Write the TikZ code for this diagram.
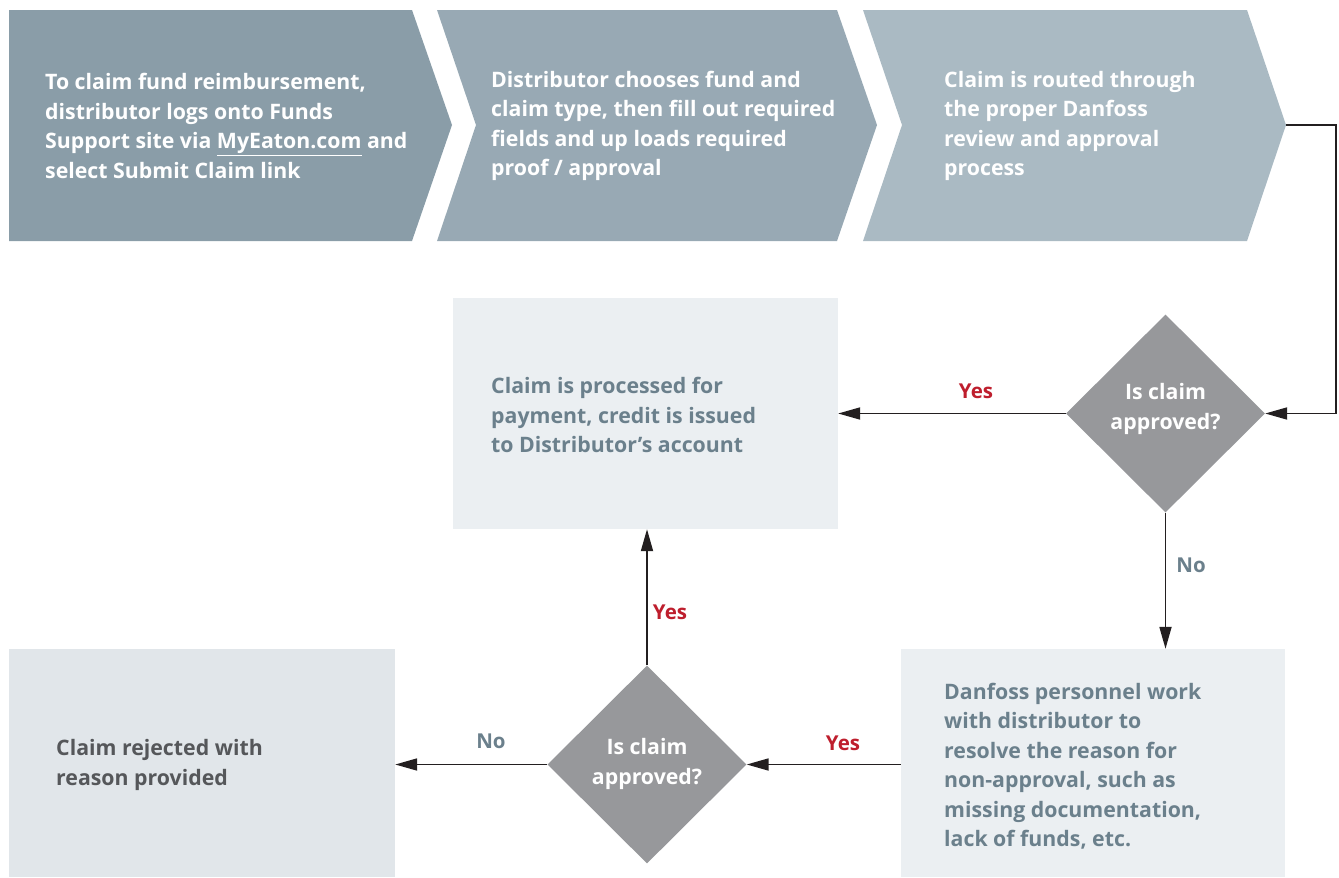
\documentclass[tikz,border=0pt]{standalone}
\usepackage{fontspec}
\setmainfont{Open Sans}
\usetikzlibrary{shapes.geometric,arrows.meta}
\definecolor{chevA}{RGB}{138,157,168}
\definecolor{chevB}{RGB}{152,169,180}
\definecolor{chevC}{RGB}{170,186,195}
\definecolor{boxlight}{RGB}{235,239,242}
\definecolor{boxgrey}{RGB}{225,230,234}
\definecolor{diagrey}{RGB}{151,152,155}
\definecolor{bluetext}{RGB}{107,128,140}
\definecolor{darktext}{RGB}{85,87,90}
\definecolor{yesred}{RGB}{190,30,45}
\definecolor{linecol}{RGB}{35,31,32}
\tikzset{
  x=1pt,y=-1pt,
  txt/.style={font=\fontsize{21.3}{29.5}\selectfont\bfseries, align=left, inner sep=0pt, anchor=west},
  boxnode/.style={rectangle, draw=none, inner sep=0pt},
  decision/.style={diamond, fill=diagrey, inner sep=0pt, minimum width=199pt, minimum height=198pt, aspect=1},
  flow/.style={draw=linecol, line width=1.8pt, -{Triangle[length=22pt,width=12pt]}},
  lbl/.style={font=\fontsize{20.5}{24}\selectfont\bfseries, inner sep=0pt}
}
\begin{document}
\begin{tikzpicture}
\useasboundingbox (0,0) rectangle (1339,878);
% chevrons
\fill[chevA] (9,10) -- (412,10) -- (452,125) -- (412,241) -- (9,241) -- cycle;
\fill[chevB] (437,10) -- (837,10) -- (877,125) -- (837,241) -- (437,241) -- (476,125) -- cycle;
\fill[chevC] (863,10) -- (1247,10) -- (1286,125) -- (1247,241) -- (863,241) -- (902,125) -- cycle;
\coordinate (c3tip) at (1286,125);
\node[txt, white] (t1) at (45,126) {To claim fund reimbursement,\\distributor logs onto Funds\\Support site via \underline{MyEaton.com} and\\select Submit Claim link};
\node[txt, white] (t2) at (491,126) {Distributor chooses fund and\\claim type, then fill out required\\fields and up loads required\\proof / approval};
\node[txt, white] (t3) at (944,126) {Claim is routed through\\the proper Danfoss\\review and approval\\process};
% boxes
\node[boxnode, fill=boxlight, minimum width=385pt, minimum height=231pt] (b1) at (645.5,413.5) {};
\node[txt, bluetext] (bt1) at (491,415) {Claim is processed for\\payment, credit is issued\\to Distributor’s account};
\node[boxnode, fill=boxlight, minimum width=384pt, minimum height=228pt] (b2) at (1093,763) {};
\node[txt, bluetext] (bt2) at (944,766) {Danfoss personnel work\\with distributor to\\resolve the reason for\\non-approval, such as\\missing documentation,\\lack of funds, etc.};
\node[boxnode, fill=boxgrey, minimum width=386pt, minimum height=228pt] (b3) at (202,763) {};
\node[txt, darktext] (bt3) at (56,765) {Claim rejected with\\reason provided};
% decisions
\node[decision] (d1) at (1165.5,413.5) {};
\node[txt, white, align=center, anchor=center] (dt1) at (1165.5,409) {Is claim\\approved?};
\node[decision] (d2) at (647,764.5) {};
\node[txt, white, align=center, anchor=center] (dt2) at (647,764) {Is claim\\approved?};
% connectors
\coordinate (cr) at (1336,125);
\draw[flow] (c3tip) -- (cr) |- (d1.east);
\draw[flow] (d1.west) -- (b1.east |- d1.west);
\draw[flow] (d1.south) -- (b2.north -| d1.south);
\draw[flow] (b2.west |- d2.east) -- (d2.east);
\draw[flow] (d2.north) -- (b1.south -| d2.north);
\draw[flow] (d2.west) -- (b3.east |- d2.west);
% labels
\node[lbl, yesred] (l1) at (976,391) {Yes};
\node[lbl, bluetext] (l2) at (1191,565) {No};
\node[lbl, yesred] (l3) at (843,743) {Yes};
\node[lbl, yesred] (l4) at (670,612) {Yes};
\node[lbl, bluetext] (l5) at (491,741) {No};
\end{tikzpicture}
\end{document}
